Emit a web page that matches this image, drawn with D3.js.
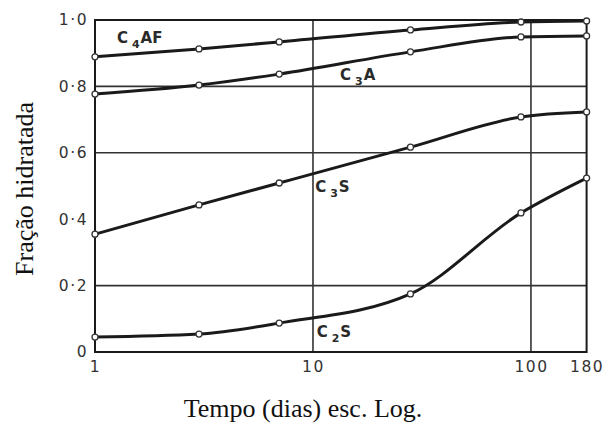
<!DOCTYPE html>
<html>
<head>
<meta charset="utf-8">
<script src="https://cdn.jsdelivr.net/npm/d3@7"></script>
<style>
  body { margin: 0; background: #fff; }
  svg { display: block; }
</style>
</head>
<body>
<svg id="chart"></svg>
<script>
const width = 608
const height = 424

// days on the log axis
const days = [1, 3, 7, 28, 90, 180]

// fraction hydrated
const c4af = [0.889, 0.913, 0.934, 0.970, 0.994, 0.997]
const c3a = [0.777, 0.804, 0.837, 0.904, 0.949, 0.952]
const c3s = [0.355, 0.443, 0.509, 0.617, 0.708, 0.723]
const c2s = [0.045, 0.054, 0.087, 0.175, 0.419, 0.524]

const xTicks = [1, 10, 100, 180]
const yTicks = [0, 0.2, 0.4, 0.6, 0.8, 1.0]
const xGrid = [10, 100]
const yGrid = [0.2, 0.6, 0.8]

// label text: [main, subscript, rest] placed at (day, value)
const labels = [
  { main: 'C', sub: '4', rest: 'AF', day: 1.26, value: 0.93 },
  { main: 'C', sub: '3', rest: 'A', day: 13.3, value: 0.819 },
  { main: 'C', sub: '3', rest: 'S', day: 10.23, value: 0.482 },
  { main: 'C', sub: '2', rest: 'S', day: 10.4, value: 0.045 },
]

const series = [c4af, c3a, c3s, c2s]

const ink = '#1a1a1a'
const labelFont = '"DejaVu Sans", sans-serif'
const serif = '"Liberation Serif", "Times New Roman", serif'

const svg = d3.select('#chart').attr('width', width).attr('height', height)

const x = d3.scaleLog().domain([1, 180]).range([95, 586.6])
const y = d3.scaleLinear().domain([0, 1]).range([352, 20])

// grid
const grid = svg.append('g').attr('stroke', '#333').attr('stroke-width', 1.6)

grid
  .selectAll('line.gx')
  .data(xGrid)
  .enter()
  .append('line')
  .attr('x1', (d) => x(d))
  .attr('x2', (d) => x(d))
  .attr('y1', y(0))
  .attr('y2', y(1))

grid
  .selectAll('line.gy')
  .data(yGrid)
  .enter()
  .append('line')
  .attr('x1', x(1))
  .attr('x2', x(180))
  .attr('y1', (d) => y(d))
  .attr('y2', (d) => y(d))

// frame
svg
  .append('rect')
  .attr('x', x(1))
  .attr('y', y(1))
  .attr('width', x(180) - x(1))
  .attr('height', y(0) - y(1))
  .attr('fill', 'none')
  .attr('stroke', ink)
  .attr('stroke-width', 2)

// axes (labels only)
const fmt = (d) => (d === 0 ? '0' : d3.format('.1f')(d).replace('.', '·'))

const yAxis = svg
  .append('g')
  .attr('transform', `translate(${x(1)},0)`)
  .call(d3.axisLeft(y).tickValues(yTicks).tickSize(0).tickPadding(7).tickFormat(fmt))

const xAxis = svg
  .append('g')
  .attr('transform', `translate(0,${y(0)})`)
  .call(d3.axisBottom(x).tickValues(xTicks).tickSize(0).tickPadding(9).tickFormat(d3.format('d')))

for (const ax of [xAxis, yAxis]) {
  ax.select('.domain').remove()
  ax.selectAll('text')
    .attr('font-family', labelFont)
    .attr('font-size', 15.5)
    .attr('letter-spacing', 1.5)
    .attr('fill', '#333')
}

// lines
const line = d3
  .line()
  .x((d, i) => x(days[i]))
  .y((d) => y(d))
  .curve(d3.curveMonotoneX)

svg
  .append('g')
  .selectAll('path')
  .data(series)
  .enter()
  .append('path')
  .attr('d', line)
  .attr('fill', 'none')
  .attr('stroke', ink)
  .attr('stroke-width', 3)

// markers
svg
  .append('g')
  .selectAll('g')
  .data(series)
  .enter()
  .append('g')
  .selectAll('circle')
  .data((d) => d)
  .enter()
  .append('circle')
  .attr('cx', (d, i) => x(days[i]))
  .attr('cy', (d) => y(d))
  .attr('r', 3)
  .attr('fill', '#fff')
  .attr('stroke', '#333')
  .attr('stroke-width', 1.3)

// curve labels
const lab = svg
  .append('g')
  .selectAll('text')
  .data(labels)
  .enter()
  .append('text')
  .attr('x', (d) => x(d.day))
  .attr('y', (d) => y(d.value))
  .attr('font-family', labelFont)
  .attr('font-weight', 'bold')
  .attr('font-size', 15)
  .attr('fill', '#2a2a2a')

lab.append('tspan').text((d) => d.main)
lab.append('tspan').attr('dx', 4).attr('dy', 5).attr('font-size', 11).text((d) => d.sub)
lab.append('tspan').attr('dx', 1).attr('dy', -5).text((d) => d.rest)

// axis titles
svg
  .append('text')
  .attr('x', 303)
  .attr('y', 417)
  .attr('text-anchor', 'middle')
  .attr('font-family', serif)
  .attr('font-size', 26)
  .attr('fill', '#111')
  .text('Tempo (dias) esc. Log.')

svg
  .append('text')
  .attr('transform', 'translate(33,189) rotate(-90)')
  .attr('text-anchor', 'middle')
  .attr('font-family', serif)
  .attr('font-size', 26)
  .attr('fill', '#111')
  .text('Fração hidratada')
</script>
</body>
</html>
